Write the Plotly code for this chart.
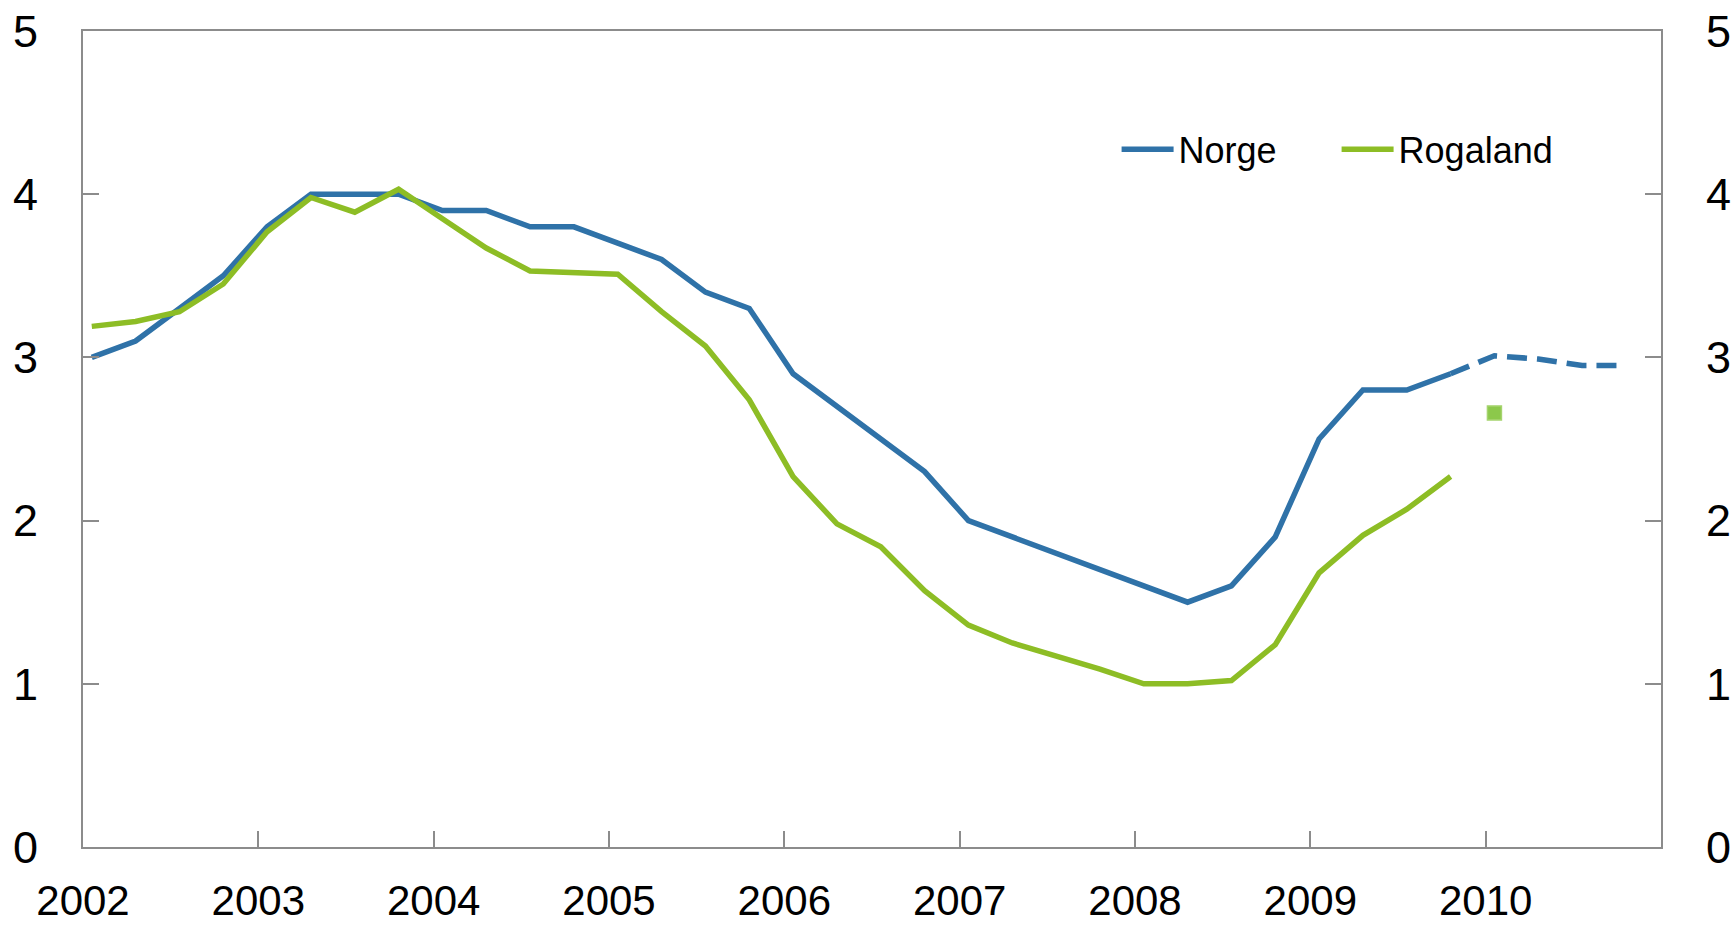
import plotly.graph_objects as go

# Quarterly observations, starting early 2002
start_year = 2002.05
step = 0.25

norge = [3.0, 3.1, 3.3, 3.5, 3.8, 4.0, 4.0, 4.0, 3.9, 3.9, 3.8, 3.8, 3.7, 3.6, 3.4, 3.3,
         2.9, 2.7, 2.5, 2.3, 2.0, 1.9, 1.8, 1.7, 1.6, 1.5, 1.6, 1.9, 2.5, 2.8, 2.8, 2.9]
norge_forecast = [2.9, 3.01, 2.99, 2.95, 2.95]   # starts at last observed quarter
rogaland = [3.19, 3.22, 3.28, 3.45, 3.77, 3.98, 3.89, 4.03, 3.85, 3.67, 3.53, 3.52, 3.51, 3.28, 3.07, 2.74,
            2.27, 1.98, 1.84, 1.57, 1.36, 1.25, 1.17, 1.09, 1.00, 1.00, 1.02, 1.24, 1.68, 1.91, 2.07, 2.27]
rogaland_forecast = [2.66]   # one quarter after last observation

year_ticks = [2002, 2003, 2004, 2005, 2006, 2007, 2008, 2009, 2010]
y_ticks = [0, 1, 2, 3, 4, 5]

x_obs = [start_year + step * i for i in range(len(norge))]
x_fc = [start_year + step * (len(norge) - 1 + i) for i in range(len(norge_forecast))]
x_rfc = [start_year + step * (len(rogaland) + i) for i in range(len(rogaland_forecast))]

BLUE = "#2f72a8"
GREEN = "#8dbd25"
AXIS = "#8c8c8c"
FONT = "Liberation Sans"
LW = 5.5

fig = go.Figure()
fig.add_trace(go.Scatter(x=x_obs, y=norge, mode="lines", name="Norge",
                         line=dict(color=BLUE, width=LW)))
fig.add_trace(go.Scatter(x=x_obs, y=rogaland, mode="lines", name="Rogaland",
                         line=dict(color=GREEN, width=LW)))
fig.add_trace(go.Scatter(x=x_fc, y=norge_forecast, mode="lines", showlegend=False,
                         line=dict(color=BLUE, width=LW, dash="20px,10px")))
fig.add_trace(go.Scatter(x=x_rfc, y=rogaland_forecast, mode="markers", showlegend=False,
                         marker=dict(symbol="square", size=14, color="#8cc84b",
                                     line=dict(color="#a5d46e", width=1.5))))
# invisible trace for right axis
fig.add_trace(go.Scatter(x=[x_obs[0]], y=[0], yaxis="y2", mode="markers",
                         marker=dict(opacity=0), showlegend=False, hoverinfo="skip"))

fig.update_layout(
    width=1736, height=929,
    margin=dict(l=83, r=75, t=31, b=82, autoexpand=False),
    paper_bgcolor="white", plot_bgcolor="white",
    font=dict(family=FONT, color="black"),
    xaxis=dict(range=[2002, 2011], tickvals=year_ticks, ticktext=[str(v) for v in year_ticks],
               showgrid=False, zeroline=False, showline=True, linecolor=AXIS, linewidth=2,
               mirror=True, ticks="inside", ticklen=16, tickwidth=1.5, tickcolor=AXIS,
               tickfont=dict(size=42, family=FONT), ticklabelstandoff=16, automargin=False,
               ticklabeloverflow="allow"),
    yaxis=dict(range=[0, 5], tickvals=y_ticks, showgrid=False, zeroline=False,
               showline=True, linecolor=AXIS, linewidth=2, ticks="inside", ticklen=16,
               tickwidth=1.5, tickcolor=AXIS, tickfont=dict(size=45, family=FONT),
               ticklabelstandoff=34, automargin=False, ticklabeloverflow="allow"),
    yaxis2=dict(range=[0, 5], tickvals=y_ticks, overlaying="y", side="right",
                showgrid=False, zeroline=False, showline=True, linecolor=AXIS, linewidth=2,
                ticks="inside", ticklen=16, tickwidth=1.5, tickcolor=AXIS,
                tickfont=dict(size=45, family=FONT), ticklabelstandoff=34, automargin=False,
                ticklabeloverflow="allow"),
    legend=dict(orientation="h", x=0.655, y=0.855, xanchor="left", yanchor="middle",
                font=dict(size=36, family=FONT), bgcolor="rgba(0,0,0,0)",
                entrywidth=153, entrywidthmode="pixels", itemwidth=52),
    showlegend=True,
)

fig.write_html("out.html", config={"displayModeBar": False},
               post_script="document.body.style.margin='0';document.body.style.overflow='hidden';")
